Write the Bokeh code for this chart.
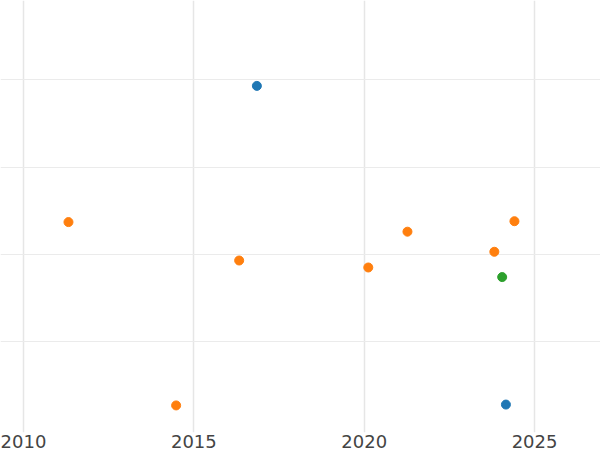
from bokeh.plotting import figure
from bokeh.embed import file_html
from bokeh.resources import INLINE
from bokeh.models import FixedTicker, Range1d

# Data
blue_x = [2016.85, 2024.16]
blue_y = [3.93, 0.28]
orange_x = [2011.32, 2014.48, 2016.33, 2020.12, 2021.27, 2023.82, 2024.41]
orange_y = [2.37, 0.27, 1.93, 1.85, 2.26, 2.03, 2.38]
green_x = [2024.05]
green_y = [1.74]

x_ticks = [2010, 2015, 2020, 2025]
y_ticks = [1, 2, 3, 4]

p = figure(width=600, height=450, output_backend="svg", toolbar_location=None,
           x_range=Range1d(2009.325, 2026.936), y_range=Range1d(-0.04, 4.908),
           min_border_left=0, min_border_right=0, min_border_top=0, min_border_bottom=0)
p.outline_line_color = None
p.background_fill_color = "white"
p.border_fill_color = "white"

p.yaxis.visible = False
p.yaxis.ticker = FixedTicker(ticks=y_ticks)
p.xaxis.ticker = FixedTicker(ticks=x_ticks)
p.xaxis.axis_line_color = None
p.xaxis.major_tick_line_color = None
p.xaxis.minor_tick_line_color = None
p.xaxis.major_tick_out = 0
p.xaxis.major_tick_in = 0
p.xaxis.major_label_standoff = 2
p.xaxis.major_label_text_font = "DejaVu Sans"
p.xaxis.major_label_text_font_size = "18px"
p.xaxis.major_label_text_color = "#444444"

p.xgrid.grid_line_color = "#e6e6e6"
p.xgrid.grid_line_width = 1.5
p.ygrid.grid_line_color = "#ebebeb"
p.ygrid.grid_line_width = 1

p.scatter(blue_x, blue_y, size=9, color="#1f77b4")
p.scatter(orange_x, orange_y, size=9, color="#ff7f0e")
p.scatter(green_x, green_y, size=9, color="#2ca02c")

open("out.html", "w").write(file_html(p, INLINE))
